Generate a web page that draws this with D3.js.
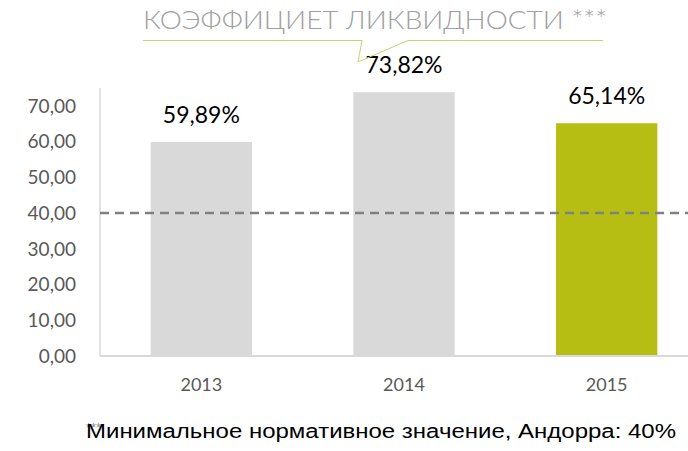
<!DOCTYPE html>
<html><head><meta charset="utf-8">
<script src="https://cdn.jsdelivr.net/npm/d3@7"></script>
<style>body{margin:0;background:#fff}svg{display:block}</style>
</head><body>
<script>
const categories = ["2013", "2014", "2015"];
const values = [59.89, 73.82, 65.14];
const valueLabels = ["59,89%", "73,82%", "65,14%"];
const yTicks = [0, 10, 20, 30, 40, 50, 60, 70];
const threshold = 40;
const titleText = "КОЭФФИЦИЕТ ЛИКВИДНОСТИ ***";
const footnoteText = "Минимальное нормативное значение, Андорра: 40%";
const barColors = ["#d9d9d9", "#d9d9d9", "#b6be14"];

const W = 688, H = 451;
const svg = d3.select("body").append("svg").attr("width", W).attr("height", H);

const x = d3.scaleBand().domain(categories).range([100, 708]).paddingInner(0.5).paddingOuter(0.25);
const y = d3.scaleLinear().domain([0, 75]).range([356, 88]);
const fmt = v => d3.format(".2f")(v).replace(".", ",");

svg.append("line").attr("x1", 100).attr("x2", 100).attr("y1", y(75)).attr("y2", y(0))
  .attr("stroke", "#d9d9d9").attr("stroke-width", 1.5);

svg.append("g").selectAll("text").data(yTicks).join("text")
  .attr("x", 76).attr("y", d => y(d)).attr("dy", "0.36em")
  .attr("text-anchor", "end").attr("font-family", "Lato, sans-serif").attr("font-size", 19)
  .attr("fill", "#595959").text(fmt);

svg.append("g").selectAll("rect").data(values).join("rect")
  .attr("x", (d, i) => x(categories[i])).attr("width", x.bandwidth())
  .attr("y", d => y(d)).attr("height", d => y(0) - y(d))
  .attr("fill", (d, i) => barColors[i]);

svg.append("line").attr("x1", 100).attr("x2", W).attr("y1", y(0)).attr("y2", y(0))
  .attr("stroke", "#d9d9d9").attr("stroke-width", 2);

svg.append("line").attr("x1", 100).attr("x2", W).attr("y1", y(threshold)).attr("y2", y(threshold))
  .attr("stroke", "#808080").attr("stroke-width", 2.5).attr("stroke-dasharray", "9,6");

svg.append("g").selectAll("text").data(values).join("text")
  .attr("x", (d, i) => x(categories[i]) + x.bandwidth() / 2).attr("y", d => y(d) - 19)
  .attr("text-anchor", "middle").attr("font-family", "Lato, sans-serif").attr("font-size", 23)
  .attr("fill", "#000").text((d, i) => valueLabels[i]);

svg.append("g").selectAll("text").data(categories).join("text")
  .attr("x", d => x(d) + x.bandwidth() / 2).attr("y", 391)
  .attr("text-anchor", "middle").attr("font-family", "Lato, sans-serif").attr("font-size", 18)
  .attr("fill", "#595959").text(d => d);

svg.append("text").attr("x", 143).attr("y", 29)
  .attr("font-family", "Lato, sans-serif").attr("font-weight", 300).attr("font-size", 25).attr("fill", "#a0a0a0")
  .attr("textLength", 464).attr("lengthAdjust", "spacingAndGlyphs")
  .text(titleText);

svg.append("path")
  .attr("d", "M143,40.5 L362,40.5 L358,62 L408,40.5 L603,40.5")
  .attr("fill", "none").attr("stroke", "#c5d46e").attr("stroke-width", 1);

svg.append("text").attr("x", 86).attr("y", 432).attr("font-family", "Arial, 'Liberation Sans', sans-serif")
  .attr("font-size", 13).attr("fill", "#909090").text("***");
svg.append("text").attr("x", 86).attr("y", 438).attr("font-family", "Arial, 'Liberation Sans', sans-serif")
  .attr("font-size", 20).attr("fill", "#000")
  .attr("textLength", 590).attr("lengthAdjust", "spacingAndGlyphs")
  .text(footnoteText);
</script>
</body></html>
